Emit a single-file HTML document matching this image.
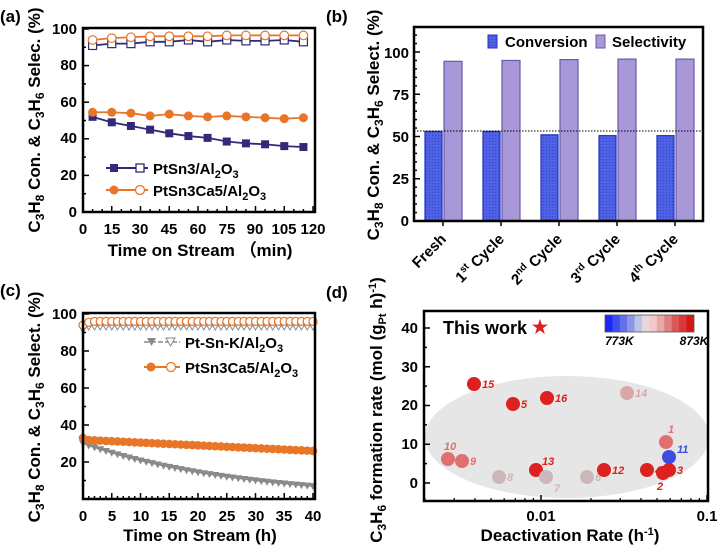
<!DOCTYPE html>
<html><head><meta charset="utf-8"><style>
html,body{margin:0;padding:0;background:#fff}
svg{display:block;font-family:"Liberation Sans",Arial,sans-serif;font-weight:bold}
</style></head><body>
<svg id="s" width="717" height="546" viewBox="0 0 717 546" xmlns="http://www.w3.org/2000/svg">
<defs>
<pattern id="dots" width="3" height="3" patternUnits="userSpaceOnUse">
<rect width="3" height="3" fill="#4f62e6"/><rect width="1" height="1" fill="#3244c8"/>
</pattern>
</defs>
<text x="0" y="22" font-size="17">(a)</text>
<text x="326" y="22" font-size="17">(b)</text>
<text x="0" y="296" font-size="17">(c)</text>
<text x="326" y="298" font-size="17">(d)</text>

<g id="a"></g>
<rect x="83" y="28" width="232" height="184" fill="none" stroke="#000" stroke-width="2.5"/>
<g font-size="15" text-anchor="end">
<text x="77" y="217">0</text><text x="77" y="180">20</text><text x="77" y="143">40</text>
<text x="77" y="107">60</text><text x="77" y="70">80</text><text x="77" y="34">100</text>
</g>
<g font-size="15" text-anchor="middle">
<text x="83" y="234">0</text><text x="112" y="234">15</text><text x="140" y="234">30</text><text x="169" y="234">45</text>
<text x="198" y="234">60</text><text x="227" y="234">75</text><text x="255" y="234">90</text><text x="284" y="234">105</text><text x="313" y="234">120</text>
</g>
<text x="200" y="256" font-size="17" text-anchor="middle">Time on Stream （min)</text>
<text transform="translate(40,120) rotate(-90)" font-size="17" text-anchor="middle">C<tspan font-size="12" dy="4">3</tspan><tspan dy="-4">H</tspan><tspan font-size="12" dy="4">8</tspan><tspan dy="-4"> Con. &amp; C</tspan><tspan font-size="12" dy="4">3</tspan><tspan dy="-4">H</tspan><tspan font-size="12" dy="4">6</tspan><tspan dy="-4"> Selec. (%)</tspan></text>
<g font-size="15">
<line x1="106" y1="168" x2="148" y2="168" stroke="#302a78" stroke-width="2"/>
<rect x="110" y="164" width="8" height="8" fill="#302a78"/><rect x="136" y="164" width="8" height="8" fill="#fff" stroke="#302a78" stroke-width="1.3"/>
<text x="153" y="174">PtSn3/Al<tspan font-size="11" dy="4">2</tspan><tspan dy="-4">O</tspan><tspan font-size="11" dy="4">3</tspan></text>
<line x1="106" y1="190" x2="148" y2="190" stroke="#e87528" stroke-width="2"/>
<circle cx="114" cy="190" r="4.5" fill="#e87528"/><circle cx="140" cy="190" r="4.5" fill="#fff" stroke="#e87528" stroke-width="1.3"/>
<text x="153" y="196">PtSn3Ca5/Al<tspan font-size="11" dy="4">2</tspan><tspan dy="-4">O</tspan><tspan font-size="11" dy="4">3</tspan></text>
</g>

<g id="b"></g>
<line x1="414" y1="131" x2="703" y2="131" stroke="#000" stroke-width="1" stroke-dasharray="1.5,1.5"/>
<rect x="414" y="27" width="289" height="194" fill="none" stroke="#000" stroke-width="2.5"/>
<g font-size="15" text-anchor="end">
<text x="409" y="226">0</text><text x="409" y="184">25</text><text x="409" y="142">50</text><text x="409" y="100">75</text><text x="409" y="58">100</text>
</g>
<rect x="488" y="35" width="9" height="13" fill="url(#dots)" stroke="#2030c0"/>
<text x="505" y="47" font-size="15">Conversion</text>
<rect x="596" y="35" width="9" height="13" fill="#a898d8" stroke="#6a5aa8"/>
<text x="612" y="47" font-size="15">Selectivity</text>
<g font-size="15" text-anchor="end">
<text transform="translate(447,240) rotate(-45)">Fresh</text>
<text transform="translate(505,240) rotate(-45)">1<tspan font-size="10" dy="-6">st</tspan><tspan dy="6"> Cycle</tspan></text>
<text transform="translate(563,240) rotate(-45)">2<tspan font-size="10" dy="-6">nd</tspan><tspan dy="6"> Cycle</tspan></text>
<text transform="translate(621,240) rotate(-45)">3<tspan font-size="10" dy="-6">rd</tspan><tspan dy="6"> Cycle</tspan></text>
<text transform="translate(679,240) rotate(-45)">4<tspan font-size="10" dy="-6">th</tspan><tspan dy="6"> Cycle</tspan></text>
</g>
<text transform="translate(379,125) rotate(-90)" font-size="17" text-anchor="middle">C<tspan font-size="12" dy="4">3</tspan><tspan dy="-4">H</tspan><tspan font-size="12" dy="4">8</tspan><tspan dy="-4"> Con. &amp; C</tspan><tspan font-size="12" dy="4">3</tspan><tspan dy="-4">H</tspan><tspan font-size="12" dy="4">6</tspan><tspan dy="-4"> Select. (%)</tspan></text>

<g id="c"></g>
<rect x="83" y="313" width="232" height="186" fill="none" stroke="#000" stroke-width="2.5"/>
<g font-size="15" text-anchor="end">
<text x="77" y="467">20</text><text x="77" y="430">40</text><text x="77" y="393">60</text><text x="77" y="356">80</text><text x="77" y="319">100</text>
</g>
<g font-size="15" text-anchor="middle">
<text x="83" y="521">0</text><text x="112" y="521">5</text><text x="141" y="521">10</text><text x="169" y="521">15</text>
<text x="198" y="521">20</text><text x="227" y="521">25</text><text x="256" y="521">30</text><text x="284" y="521">35</text><text x="313" y="521">40</text>
</g>
<text x="200" y="541" font-size="17" text-anchor="middle">Time on Stream (h)</text>
<text transform="translate(40,407) rotate(-90)" font-size="17" text-anchor="middle">C<tspan font-size="12" dy="4">3</tspan><tspan dy="-4">H</tspan><tspan font-size="12" dy="4">8</tspan><tspan dy="-4"> Con. &amp; C</tspan><tspan font-size="12" dy="4">3</tspan><tspan dy="-4">H</tspan><tspan font-size="12" dy="4">6</tspan><tspan dy="-4"> Select. (%)</tspan></text>
<g font-size="15">
<line x1="144" y1="342" x2="180" y2="342" stroke="#8a8a8a" stroke-width="1.5" stroke-dasharray="5,2"/>
<path d="M147,338 h9 l-4.5,8z" fill="#8a8a8a"/><path d="M166,338 h9 l-4.5,8z" fill="#fff" stroke="#8a8a8a"/>
<text x="185" y="348">Pt-Sn-K/Al<tspan font-size="11" dy="4">2</tspan><tspan dy="-4">O</tspan><tspan font-size="11" dy="4">3</tspan></text>
<line x1="144" y1="367" x2="180" y2="367" stroke="#e87528" stroke-width="2"/>
<circle cx="151" cy="367" r="4.5" fill="#e87528"/><circle cx="171" cy="367" r="4.5" fill="#fff" stroke="#e87528" stroke-width="1.3"/>
<text x="185" y="373">PtSn3Ca5/Al<tspan font-size="11" dy="4">2</tspan><tspan dy="-4">O</tspan><tspan font-size="11" dy="4">3</tspan></text>
</g>

<ellipse cx="567" cy="437" rx="142" ry="61" fill="#e6e6e6"/>
<g id="d"></g>
<rect x="424" y="311" width="284" height="190" fill="none" stroke="#000" stroke-width="2.5"/>
<g font-size="15" text-anchor="end">
<text x="418" y="488">0</text><text x="418" y="449">10</text><text x="418" y="410">20</text><text x="418" y="372">30</text><text x="418" y="333">40</text>
</g>
<text x="541" y="521" font-size="15" text-anchor="middle">0.01</text>
<text x="707" y="521" font-size="15" text-anchor="middle">0.1</text>
<text x="570" y="541" font-size="17" text-anchor="middle">Deactivation Rate (h<tspan font-size="11" dy="-6">-1</tspan><tspan dy="6">)</tspan></text>
<text transform="translate(382,410) rotate(-90)" font-size="17" text-anchor="middle">C<tspan font-size="12" dy="4">3</tspan><tspan dy="-4">H</tspan><tspan font-size="12" dy="4">6</tspan><tspan dy="-4"> formation rate (mol (g</tspan><tspan font-size="11" dy="4">Pt</tspan><tspan dy="-4"> h)</tspan><tspan font-size="11" dy="-6">-1</tspan><tspan dy="6">)</tspan></text>
<text x="443" y="334" font-size="18">This work</text>
<text x="540" y="333" font-size="18" fill="#e02020" text-anchor="middle">★</text>
<g id="cb"></g>
<text x="605" y="345" font-size="12" font-style="italic">773K</text>
<text x="694" y="345" font-size="12" font-style="italic" text-anchor="middle">873K</text>
</svg>
<script>
const NS="http://www.w3.org/2000/svg";
function el(p,t,a,txt){const e=document.createElementNS(NS,t);for(const k in a)e.setAttribute(k,a[k]);if(txt!==undefined)e.textContent=txt;document.getElementById(p).appendChild(e);return e;}
{const X=t=>83+t*230/120,Y=v=>212-v*1.83,ts=[5,15,25,35,45,55,65,75,85,95,105,115];
const c1=[52,49,47,45,43,41.5,40.5,38.5,37.5,37,36,35.5],s1=[91,92,92,93,93,94,93,94,93.5,93.5,94,93],
c2=[54.5,54.5,54,52.5,53.5,52.5,52,52.5,52,51.5,51,51.5],s2=[94,95,95.5,96,96,96,96,96.5,96.5,96.5,96.5,96.5];
for(let t=0;t<=120;t+=5)el('a','line',{x1:X(t),y1:212,x2:X(t),y2:t%15?209:206,stroke:'#000','stroke-width':1.5});
for(let v=0;v<=100;v+=10)el('a','line',{x1:83,y1:Y(v),x2:v%20?86:89,y2:Y(v),stroke:'#000','stroke-width':1.5});
const pl=(d,c)=>el('a','polyline',{points:ts.map((t,i)=>X(t)+','+Y(d[i])).join(' '),fill:'none',stroke:c,'stroke-width':1.8});
pl(s1,'#302a78');pl(s2,'#e87528');pl(c1,'#302a78');pl(c2,'#e87528');
ts.forEach((t,i)=>{el('a','rect',{x:X(t)-4,y:Y(s1[i])-4,width:8,height:8,fill:'#fff',stroke:'#302a78','stroke-width':1.2});
el('a','circle',{cx:X(t),cy:Y(s2[i]),r:4.3,fill:'#fff',stroke:'#e87528','stroke-width':1.2});
el('a','rect',{x:X(t)-4,y:Y(c1[i])-4,width:8,height:8,fill:'#302a78'});
el('a','circle',{cx:X(t),cy:Y(c2[i]),r:4.5,fill:'#e87528'});});}
{const Y=v=>221-v*1.69,cs=[443,501,559,617,675],cv=[53,53,51,50.5,50.5],sv=[94.5,95,95.5,95.8,95.8];
for(let v=0;v<=115;v+=5)el('b','line',{x1:414,y1:Y(v),x2:v%25?417:420,y2:Y(v),stroke:'#000','stroke-width':1.5});
cs.forEach((c,i)=>{el('b','rect',{x:c-18,y:Y(cv[i]),width:17,height:221-Y(cv[i]),fill:'url(#dots)',stroke:'#2030c0','stroke-width':1.2});
el('b','rect',{x:c+1,y:Y(sv[i]),width:18,height:221-Y(sv[i]),fill:'#a898d8',stroke:'#6a5aa8','stroke-width':1.2});
el('b','line',{x1:c,y1:221,x2:c,y2:226,stroke:'#000','stroke-width':1.5});});}
{const X=t=>83+t*5.75,Y=v=>499-v*1.85;
for(let t=0;t<=40;t++)el('c','line',{x1:X(t),y1:499,x2:X(t),y2:t%5?496:493,stroke:'#000','stroke-width':1.5});
for(let v=10;v<=100;v+=10)el('c','line',{x1:83,y1:Y(v),x2:v%20?86:89,y2:Y(v),stroke:'#000','stroke-width':1.5});
const pk=[],sk=[],pc=[],sc=[];
for(let t=0;t<=40;t++){pk.push(30*Math.exp(-t*0.0365));sk.push(t==0?92:93.5);pc.push(t==0?33:32-t*0.15);sc.push(t==0?94:Math.min(96,95+t*0.5));}
const pl=(d,c,w)=>el('c','polyline',{points:d.map((v,t)=>X(t)+','+Y(v)).join(' '),fill:'none',stroke:c,'stroke-width':w});
pl(sk,'#8a8a8a',1.2);pl(pk,'#8a8a8a',1.5);pl(sc,'#e87528',1.2);pl(pc,'#e87528',1.8);
for(let t=0;t<=40;t++){const x=X(t);
el('c','path',{d:`M${x-4},${Y(sk[t])-3}h8l-4,7z`,fill:'#fff',stroke:'#8a8a8a','stroke-width':1});
el('c','circle',{cx:x,cy:Y(sc[t]),r:4,fill:'#fff',stroke:'#e87528','stroke-width':1.2});
el('c','path',{d:`M${x-4},${Y(pk[t])-3}h8l-4,7z`,fill:'#8a8a8a'});
el('c','circle',{cx:x,cy:Y(pc[t]),r:4.3,fill:'#e87528'});}}
{for(let v=-5;v<=45;v+=5){const y=483-v*3.875;if(y>311&&y<501)el('d','line',{x1:424,y1:y,x2:v%10?427:430,y2:y,stroke:'#000','stroke-width':1.5});}
[541,707].forEach(x=>el('d','line',{x1:x,y1:501,x2:x,y2:495,stroke:'#000','stroke-width':1.5}));
for(let k=2;k<=9;k++){[-1,0].forEach(d=>{const x=541+166*(d+Math.log10(k));if(x>424&&x<708)el('d','line',{x1:x,y1:501,x2:x,y2:498,stroke:'#000','stroke-width':1.2});});}
const R='#dd2020',P='#e07070',L='#ccb8b8',B='#3e4ce0',G='#d8a8a8';
const pts=[[474,384,'15',R,8,4],[513,404,'5',R,8,4],[547,398,'16',R,8,4],[627,393,'14',G,8,4],
[666,442,'1',P,2,-9],[669,457,'11',B,8,-4],[448,459,'10',P,-4,-9],[462,461,'9',P,8,4],
[536,470,'13',R,6,-5],[499,477,'8',L,8,4],[546,477,'7',L,8,15],[587,477,'6',L,8,4],
[604,470,'12',R,8,4],[647,470,'4',R,8,4],[663,473,'2',R,-6,17],[669,470,'3',R,8,4]];
pts.forEach(p=>{el('d','circle',{cx:p[0],cy:p[1],r:7,fill:p[3]});
el('d','text',{x:p[0]+p[4],y:p[1]+p[5],'font-size':11,'font-style':'italic',fill:p[3]},p[2]);});
const cols=['#1a28f0','#3d4ef0','#6470e8','#8e96e4','#bcc0ec','#e6d8d8','#f0c8c8','#e8a8a8','#e08080','#dc5858','#d83838','#d41818'];
cols.forEach((c,i)=>el('cb','rect',{x:605+i*7.4,y:315,width:7.6,height:17,fill:c}));
el('cb','rect',{x:605,y:315,width:89,height:17,fill:'none',stroke:'#555','stroke-width':0.8});}
</script>
</body></html>
